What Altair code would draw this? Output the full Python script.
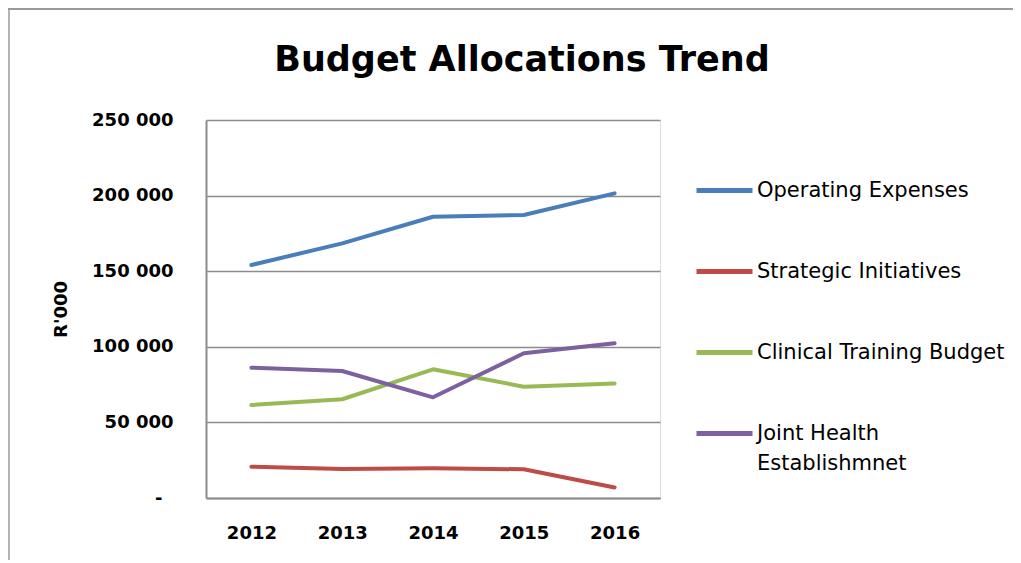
import altair as alt
import pandas as pd

years = ["2012", "2013", "2014", "2015", "2016"]
series_names = [
    "Operating Expenses",
    "Strategic Initiatives",
    "Clinical Training Budget",
    "Joint Health Establishmnet",
]
operating = [154100, 168400, 186000, 187200, 201500]
strategic = [20700, 19200, 19600, 19000, 7000]
clinical = [61500, 65300, 85100, 73600, 75800]
joint = [86200, 84000, 66600, 95700, 102300]
colors = ["#4a7ebb", "#be4b48", "#98b954", "#7d60a0"]
y_ticks = [0, 50000, 100000, 150000, 200000, 250000]

rows = []
for name, vals in zip(series_names, [operating, strategic, clinical, joint]):
    for yr, v in zip(years, vals):
        rows.append({"year": yr, "series": name, "value": v})
df = pd.DataFrame(rows)

FONT = "DejaVu Sans"
GRID = "#8c8c8c"

lines = alt.Chart(df).mark_line(
    strokeWidth=4, strokeCap="round", strokeJoin="round"
).encode(
    x=alt.X(
        "year:O",
        sort=years,
        scale=alt.Scale(type="point", padding=0.5),
        axis=alt.Axis(
            title=None, labelAngle=0, ticks=False, tickSize=0, labelPadding=26,
            domainColor=GRID, domainWidth=2, grid=False,
            labelFont=FONT, labelFontSize=18, labelFontWeight="bold", labelColor="#000",
        ),
    ),
    y=alt.Y(
        "value:Q",
        scale=alt.Scale(domain=[0, 250000], nice=False),
        axis=alt.Axis(
            values=y_ticks,
            labelExpr="datum.value == 0 ? '-' : replace(format(datum.value, ','), ',', ' ')",
            title="R'000", titleFont=FONT, titleFontSize=18, titleFontWeight="bold",
            titleColor="#000", titlePadding=21,
            ticks=False, tickSize=0,
            labelPadding={"condition": {"test": "datum.value == 0", "value": 44}, "value": 33},
            domainColor=GRID, domainWidth=2, gridColor=GRID, gridWidth=1.5,
            labelFont=FONT, labelFontSize=18, labelFontWeight="bold", labelColor="#000",
        ),
    ),
    color=alt.Color(
        "series:N",
        sort=series_names,
        scale=alt.Scale(domain=series_names, range=colors),
        legend=alt.Legend(
            title=None, orient="none", legendX=488, legendY=40, padding=0,
            symbolType="stroke", symbolSize=3136, symbolStrokeWidth=5,
            labelFont=FONT, labelFontSize=21, labelColor="#000", labelOffset=2,
            labelLimit=400, rowPadding=40,
            labelExpr="datum.label == 'Joint Health Establishmnet' ? ['Joint Health', 'Establishmnet'] : datum.label",
        ),
    ),
)

frame_df = pd.DataFrame({"frame": [0]})
frame_top = alt.Chart(frame_df).mark_rule(color="#9a9a9a", strokeWidth=2).encode(
    x=alt.value(-198), x2=alt.value(807), y=alt.value(-111)
)
frame_left = alt.Chart(frame_df).mark_rule(color="#9a9a9a", strokeWidth=1.5).encode(
    x=alt.value(-197), y=alt.value(-111), y2=alt.value(460)
)

chart = alt.layer(frame_top, frame_left, lines).properties(
    width=454,
    height=378,
    autosize=alt.AutoSizeParams(type="none"),
    padding={"left": 198, "top": 112, "right": 353, "bottom": 62},
    title=alt.TitleParams(
        "Budget Allocations Trend", font=FONT, fontSize=35, fontWeight="bold",
        color="#000", anchor="middle", dx=89, dy=98, baseline="alphabetic", offset=0,
    ),
).configure_view(strokeWidth=0).configure(
    style={"guide-label": {"lineHeight": 30}}
)

chart.save("out.html", embed_options={"renderer": "svg", "actions": False})
